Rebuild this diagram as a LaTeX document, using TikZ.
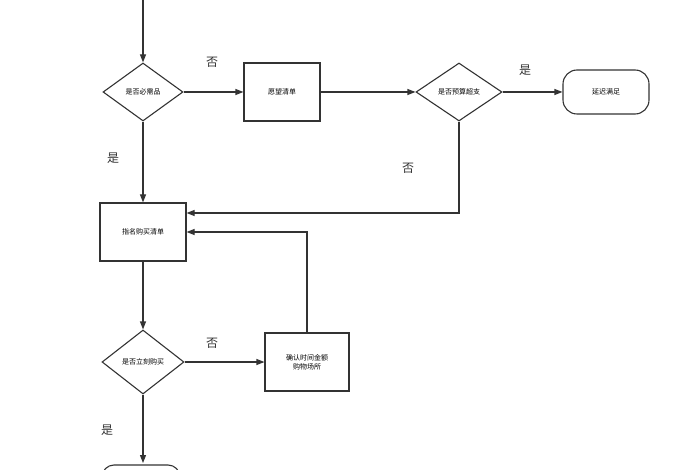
\documentclass[tikz,border=0pt]{standalone}
\usepackage{fontspec}
\setmainfont{Noto Sans CJK SC}
\usetikzlibrary{shapes.geometric,arrows.meta}
\begin{document}
\begin{tikzpicture}[x=1pt,y=-1pt,
  box/.style={draw=black!80,line width=1.1pt,minimum width=76pt,minimum height=58pt,inner sep=1pt,font=\fontsize{7}{9}\selectfont,align=center},
  dia/.style={draw=black!80,line width=1.1pt,diamond,aspect=1.4,minimum width=82pt,minimum height=58pt,inner sep=0pt,font=\fontsize{7}{9}\selectfont},
  term/.style={draw=black!80,line width=1.1pt,rounded corners=14pt,minimum width=86pt,minimum height=44pt,font=\fontsize{7}{9}\selectfont},
  lbl/.style={font=\fontsize{12}{14}\selectfont,text=black!80},
  arr/.style={draw=black!80,line width=1.1pt,-{Triangle[length=8pt,width=6pt]}}]
\useasboundingbox (0,0) rectangle (700,470);
\node[dia,minimum width=80pt] (d1) at (143,92) {是否必需品};
\node[box] (w) at (282,92) {愿望清单};
\node[dia,minimum width=86pt] (d2) at (459,92) {是否预算超支};
\node[term] (t1) at (606,92) {延迟满足};
\node[box,minimum width=86pt] (b) at (143,232) {指名购买清单};
\node[dia,minimum width=82pt,minimum height=64pt] (d3) at (143,362) {是否立刻购买};
\node[box,minimum width=84pt] (c) at (307,362) {确认时间金额\\购物场所};
\node[draw=black!80,line width=1.1pt,rounded corners=12pt,minimum width=78pt,minimum height=30pt] (t2) at (141,480) {};
\coordinate (top) at (143,0);
\coordinate (k1) at (459,213);
\coordinate (k2) at (307,232);
\draw[arr] (top) -- (d1.north);
\draw[arr] (d1.east) -- (w.west);
\draw[arr] (w.east) -- (d2.west);
\draw[arr] (d2.east) -- (t1.west);
\draw[arr] (d1.south) -- (b.north);
\draw[arr] (d2.south) -- (k1) -- (b.east |- k1);
\draw[arr] (c.north) -- (k2) -- (b.east);
\draw[arr] (b.south) -- (d3.north);
\draw[arr] (d3.east) -- (c.west);
\draw[arr] (d3.south) -- (143,463);
\node[lbl] (l1) at (212,62) {否};
\node[lbl] (l2) at (525,70) {是};
\node[lbl] (l3) at (113,158) {是};
\node[lbl] (l4) at (408,168) {否};
\node[lbl] (l5) at (212,343) {否};
\node[lbl] (l6) at (107,430) {是};
\end{tikzpicture}
\end{document}
